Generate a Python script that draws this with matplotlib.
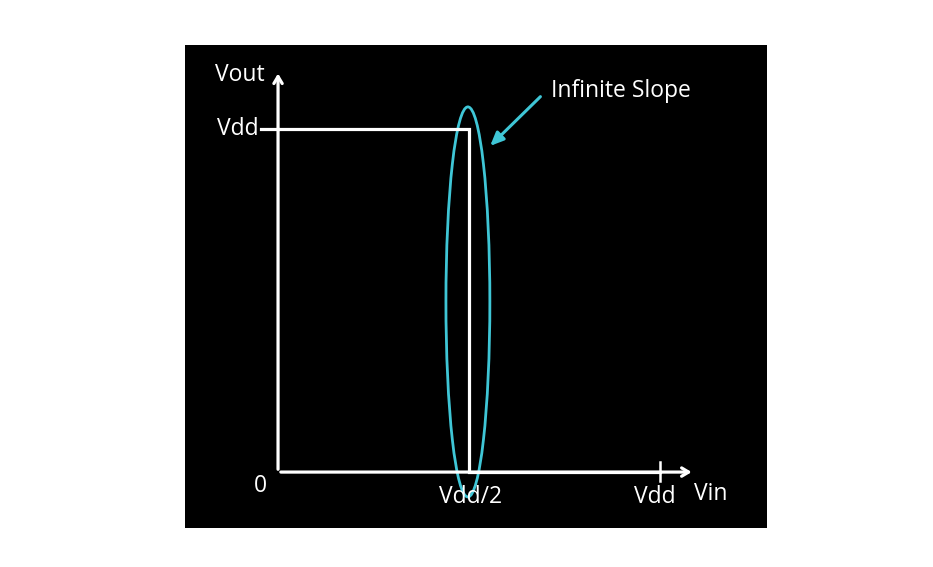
import matplotlib
matplotlib.use("Agg")
import matplotlib.pyplot as plt
from matplotlib.patches import Ellipse

# ideal inverter transfer characteristic (in units of Vdd)
vin = [0.0, 0.5, 0.5, 1.0]
vout = [1.0, 1.0, 0.0, 0.0]
xtick_pos = [0.5, 1.0]
xtick_lab = ["Vdd/2", "Vdd"]
ytick_pos = [0.0, 1.0]
ytick_lab = ["0", "Vdd"]

WH = "white"; CY = "#3fc6d6"
plt.rcParams["font.family"] = ["Open Sans", "DejaVu Sans"]

fig = plt.figure(figsize=(9.33, 5.67), dpi=100, facecolor="white")
ax = fig.add_axes([0.1983, 0.0688, 0.6238, 0.8519])
ax.set_facecolor("black")
ax.set_xlim(-0.2435, 1.280); ax.set_ylim(-0.163, 1.245)
ax.set_xticks([]); ax.set_yticks([])
for sp in ax.spines.values(): sp.set_visible(False)

# axes with arrows
ax.annotate("", xy=(1.09, 0), xytext=(0, 0),
            arrowprops=dict(arrowstyle="->,head_length=0.5,head_width=0.3", color=WH, lw=2.3))
ax.annotate("", xy=(0, 1.17), xytext=(0, 0),
            arrowprops=dict(arrowstyle="->,head_length=0.5,head_width=0.3", color=WH, lw=2.3))

ax.plot(vin, vout, color=WH, lw=2.3, solid_joinstyle="miter")

# ticks
ax.plot([-0.045, 0], [ytick_pos[1], ytick_pos[1]], color=WH, lw=2.3)
ax.plot([xtick_pos[1], xtick_pos[1]], [-0.026, 0.029], color=WH, lw=1.8)

fs = 16.5
ax.text(-0.05, ytick_pos[1], ytick_lab[1], color=WH, fontsize=fs, ha="right", va="center")
ax.text(-0.047, -0.04, ytick_lab[0], color=WH, fontsize=fs, ha="center", va="center")
ax.text(xtick_pos[0] + 0.005, -0.073, xtick_lab[0], color=WH, fontsize=fs, ha="center", va="center")
ax.text(xtick_pos[1] - 0.013, -0.072, xtick_lab[1], color=WH, fontsize=fs, ha="center", va="center")
ax.text(-0.034, 1.157, "Vout", color=WH, fontsize=fs, ha="right", va="center")
ax.text(1.09, -0.064, "Vin", color=WH, fontsize=fs, ha="left", va="center")

# infinite slope callout
ax.add_patch(Ellipse((0.497, 0.496), 0.115, 1.137, fill=False, edgecolor=CY, lw=2.0))
ax.annotate("", xy=(0.55, 0.945), xytext=(0.692, 1.10),
            arrowprops=dict(arrowstyle="-|>,head_length=0.8,head_width=0.35", color=CY, lw=2.2))
ax.text(0.715, 1.11, "Infinite Slope", color=WH, fontsize=fs, ha="left", va="center")

fig.savefig("out.png", dpi=100, facecolor="white")
